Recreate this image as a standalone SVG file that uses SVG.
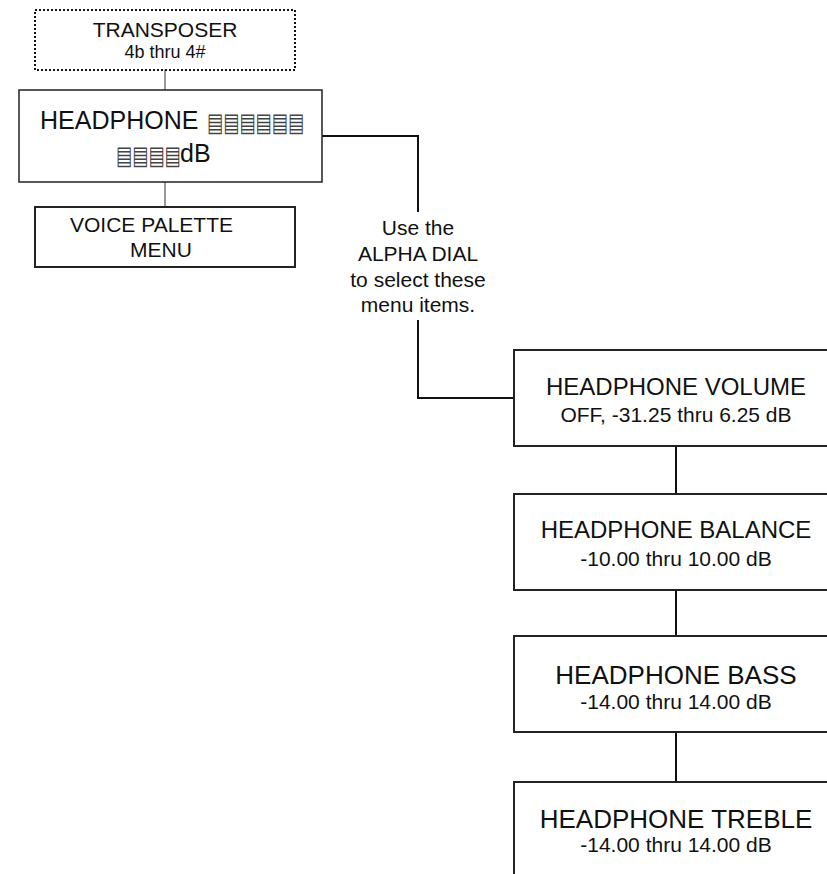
<svg xmlns="http://www.w3.org/2000/svg" width="827" height="874" viewBox="0 0 827 874">
<style>
text{font-family:"Liberation Sans",Arial,sans-serif;fill:#111}
.box{fill:#fff;stroke:#222;stroke-width:2}
.c{text-anchor:middle}
.t24{font-size:24px}
.t26{font-size:26px}
.s21{font-size:21px}
.conn{fill:none;stroke:#111;stroke-width:2}
.gray{fill:none;stroke:#777;stroke-width:1.5}
text.tofu{font-family:"DejaVu Sans",sans-serif;font-size:26px;fill:#444}
</style>
<rect width="827" height="874" fill="#fff"/>
<g id="connectors">
<line class="gray" x1="165" y1="70" x2="165" y2="90"/>
<line class="gray" x1="165" y1="182" x2="165" y2="207"/>
<polyline class="conn" points="322,136 418,136 418,212"/>
<polyline class="conn" points="418,320 418,398 514,398"/>
<line class="conn" x1="676" y1="446" x2="676" y2="494"/>
<line class="conn" x1="676" y1="590" x2="676" y2="636"/>
<line class="conn" x1="676" y1="732" x2="676" y2="782"/>
</g>
<g id="transposer">
<rect x="35" y="10" width="260" height="60" fill="#fff" stroke="#111" stroke-width="2" stroke-dasharray="2 2"/>
<text class="c" x="165" y="37" font-size="21">TRANSPOSER</text>
<text class="c" x="165" y="58" font-size="18">4b thru 4#</text>
</g>
<g id="headphone">
<rect x="19" y="90" width="303" height="92" fill="#fff" stroke="#222" stroke-width="1.5"/>
<text x="40" y="129" font-size="25">HEADPHONE</text>
<text class="tofu" transform="translate(207,131) scale(0.66,1)">▤▤▤▤▤▤</text>
<text class="tofu" transform="translate(116,164) scale(0.66,1)">▤▤▤▤</text>
<text x="180" y="162" font-size="25">dB</text>
</g>
<g id="voice-palette">
<rect class="box" x="35" y="207" width="260" height="60"/>
<text x="70" y="232" font-size="21">VOICE PALETTE</text>
<text x="130" y="257" font-size="21">MENU</text>
</g>
<g id="note">
<text class="c s21" x="418" y="235">Use the</text>
<text class="c s21" x="418" y="261">ALPHA DIAL</text>
<text class="c s21" x="418" y="287">to select these</text>
<text class="c s21" x="418" y="312">menu items.</text>
</g>
<g id="hp-volume">
<rect class="box" x="514" y="350" width="330" height="96"/>
<text class="c t24" x="676" y="395">HEADPHONE VOLUME</text>
<text class="c s21" x="676" y="422">OFF, -31.25 thru 6.25 dB</text>
</g>
<g id="hp-balance">
<rect class="box" x="514" y="494" width="330" height="96"/>
<text class="c t24" x="676" y="538">HEADPHONE BALANCE</text>
<text class="c s21" x="676" y="566">-10.00 thru 10.00 dB</text>
</g>
<g id="hp-bass">
<rect class="box" x="514" y="636" width="330" height="96"/>
<text class="c t26" x="676" y="684">HEADPHONE BASS</text>
<text class="c s21" x="676" y="709">-14.00 thru 14.00 dB</text>
</g>
<g id="hp-treble">
<rect class="box" x="514" y="782" width="330" height="120"/>
<text class="c t26" x="676" y="828">HEADPHONE TREBLE</text>
<text class="c s21" x="676" y="852">-14.00 thru 14.00 dB</text>
</g>
</svg>
